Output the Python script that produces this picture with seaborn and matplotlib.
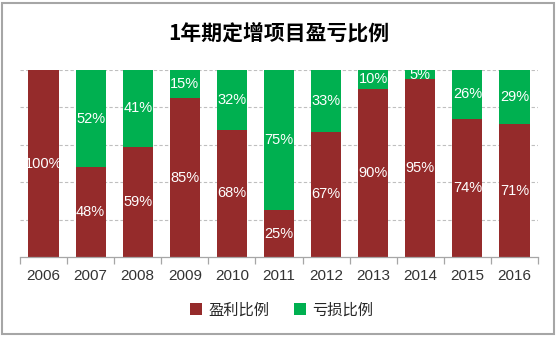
import matplotlib
matplotlib.use("Agg")
import matplotlib.pyplot as plt
import seaborn as sns
import pandas as pd
from matplotlib.patches import Patch, Rectangle

years = ["2006", "2007", "2008", "2009", "2010", "2011", "2012", "2013", "2014", "2015", "2016"]
profit = [100, 48, 59, 85, 68, 25, 67, 90, 95, 74, 71]
loss = [0, 52, 41, 15, 32, 75, 33, 10, 5, 26, 29]
title = "1年期定增项目盈亏比例"
series_names = ["盈利比例", "亏损比例"]

RED = "#952B2B"
GREEN = "#00B050"

sns.set_theme(style="white")
plt.rcParams['font.family'] = ['Noto Sans CJK SC', 'DejaVu Sans']

df = pd.DataFrame({"year": years, "profit": profit, "loss": loss})
df["total"] = df["profit"] + df["loss"]

fig = plt.figure(figsize=(5.58, 3.37), dpi=100)
ax = fig.add_axes([20/558, 1 - 257/337, 518/558, 187/337])

sns.barplot(data=df, x="year", y="total", color=GREEN, width=0.64, ax=ax,
            saturation=1, linewidth=0)
sns.barplot(data=df, x="year", y="profit", color=RED, width=0.64, ax=ax,
            saturation=1, linewidth=0)

for i, (p, l) in enumerate(zip(profit, loss)):
    if p > 0:
        ax.text(i, p / 2, f"{p}%", ha="center", va="center", color="white",
                fontsize=10.5, family=["Liberation Sans", "DejaVu Sans"])
    if l > 0:
        ax.text(i, p + l / 2, f"{l}%", ha="center", va="center", color="white",
                fontsize=10.5, family=["Liberation Sans", "DejaVu Sans"])

ax.set_ylim(0, 100)
ax.set_xlim(-0.5, len(years) - 0.5)
ax.set_yticks([0, 20, 40, 60, 80, 100])
ax.set_yticklabels([])
ax.tick_params(axis="y", length=0)
for y in [20, 40, 60, 80, 100]:
    ax.axhline(y, color="#BFBFBF", linestyle=(0, (3, 2)), linewidth=0.8, zorder=0)
ax.set_xlabel("")
ax.set_ylabel("")
for s in ["top", "right", "left"]:
    ax.spines[s].set_visible(False)
ax.spines["bottom"].set_color("#A6A6A6")
ax.spines["bottom"].set_linewidth(0.9)
ax.set_xticks(range(len(years)))
ax.set_xticklabels(years, fontsize=11, color="#333333", family=["Liberation Sans", "DejaVu Sans"])
ax.set_xticks([i - 0.5 for i in range(len(years) + 1)], minor=True)
ax.tick_params(axis="x", which="major", length=0, pad=9)
ax.tick_params(axis="x", which="minor", length=5, color="#A6A6A6", width=0.9, direction="out", bottom=True)
ax.set_axisbelow(True)

fig.text(0.5, 1 - 33/337, title, ha="center", va="center", fontsize=15,
         fontweight="bold", color="black")

handles = [Patch(facecolor=RED, edgecolor="none"), Patch(facecolor=GREEN, edgecolor="none")]
fig.legend(handles, series_names, loc="center", bbox_to_anchor=(0.505, 1 - 310/337),
           ncol=2, frameon=False, fontsize=11, handlelength=0.8, handleheight=0.8,
           handletextpad=0.4, columnspacing=1.6)

fig.patches.append(Rectangle((2/558, 3/337), 552/558, 331/337, transform=fig.transFigure,
                             fill=False, edgecolor="#A6A6A6", linewidth=1.5))

fig.savefig("out.png", dpi=100)
